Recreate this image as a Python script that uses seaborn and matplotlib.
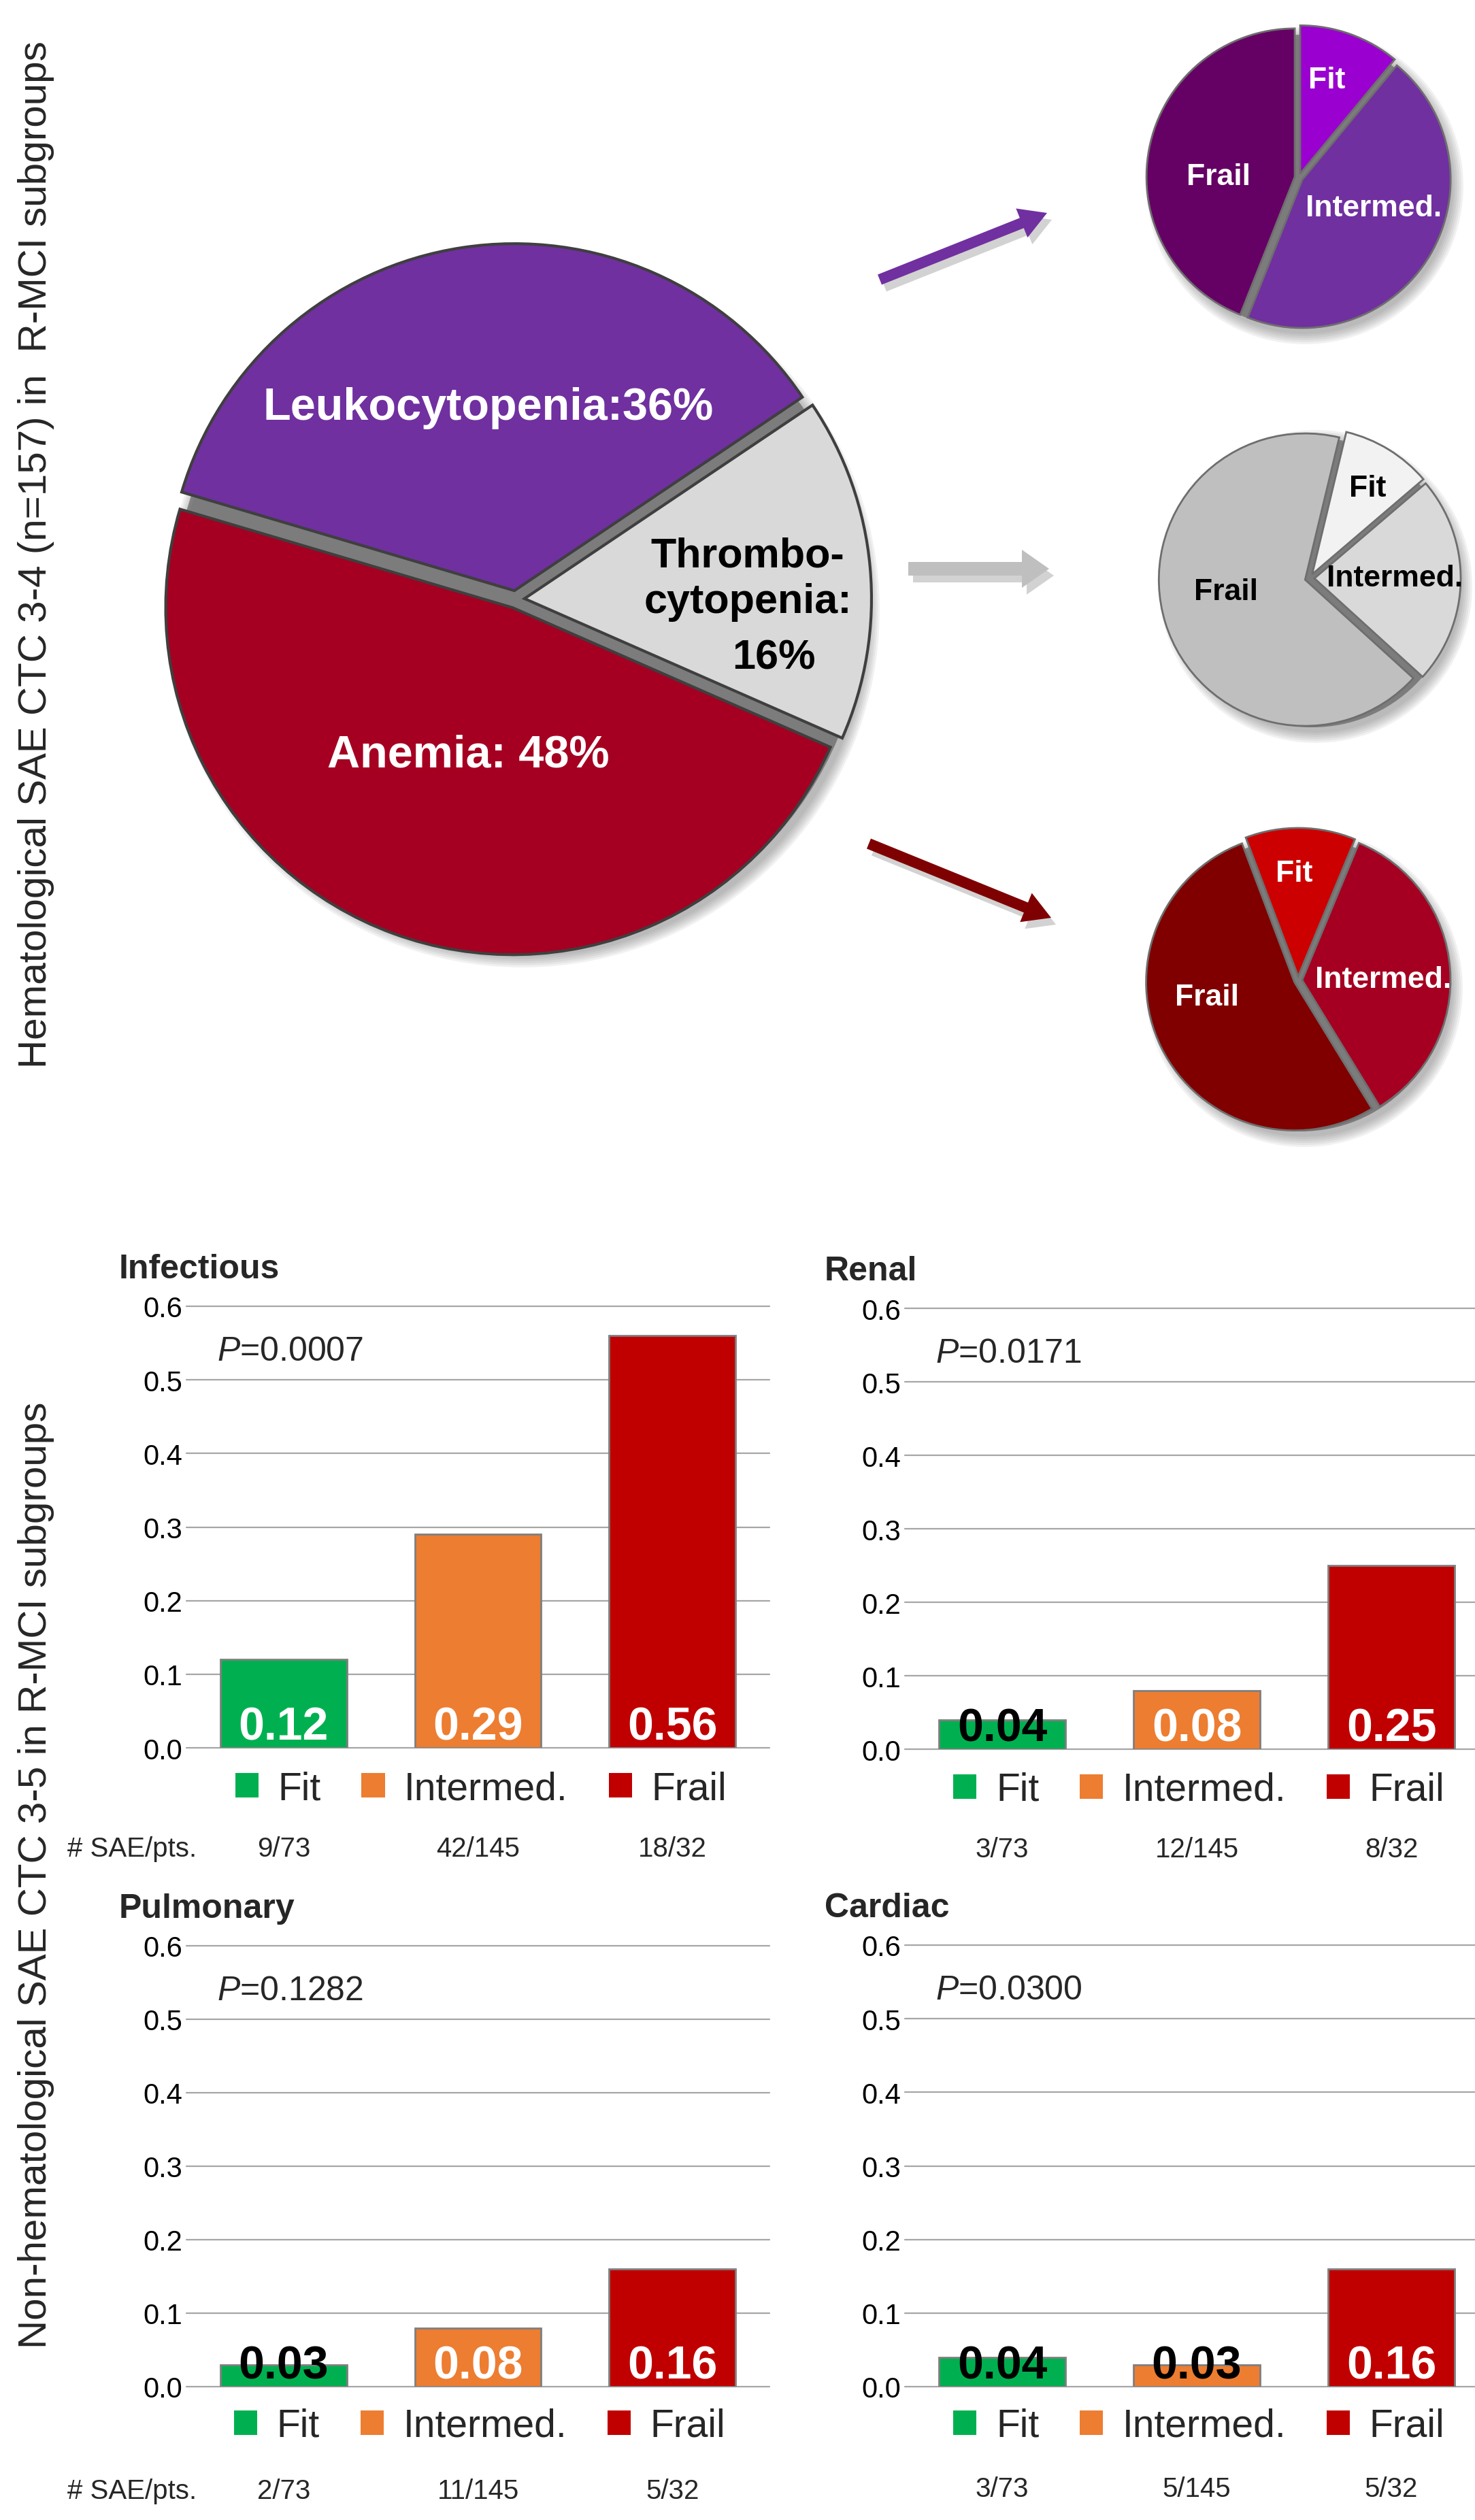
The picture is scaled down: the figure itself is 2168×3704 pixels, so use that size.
import numpy as np
import pandas as pd
import matplotlib
matplotlib.use('Agg')
import matplotlib.pyplot as plt
import matplotlib.patches as mpatches
import seaborn as sns

# ---- data ----
hema_names = ['Thrombo-\ncytopenia:\n16%', 'Leukocytopenia:36%', 'Anemia: 48%']
hema_share = [16, 36, 48]
hema_colors = ['#D9D9D9', '#7030A0', '#A50021']
hema_text = ['black', 'white', 'white']

sub_names = ['Fit', 'Intermed.', 'Frail']
leuko_share = [11, 45, 44]
thrombo_share = [10, 23, 67]
anemia_share = [12, 35, 53]
leuko_colors = ['#9A00CF', '#7030A0', '#650064']
thrombo_colors = ['#F2F2F2', '#D9D9D9', '#BFBFBF']
anemia_colors = ['#CC0000', '#A50021', '#800000']

groups = ['Fit', 'Intermed.', 'Frail']
bar_colors = ['#00B050', '#ED7D31', '#C00000']
panel_titles = ['Infectious', 'Renal', 'Pulmonary', 'Cardiac']
infectious = [0.12, 0.29, 0.56]
renal = [0.04, 0.08, 0.25]
pulmonary = [0.03, 0.08, 0.16]
cardiac = [0.04, 0.03, 0.16]
p_values = ['0.0007', '0.0171', '0.1282', '0.0300']
infectious_n = ['9/73', '42/145', '18/32']
renal_n = ['3/73', '12/145', '8/32']
pulmonary_n = ['2/73', '11/145', '5/32']
cardiac_n = ['3/73', '5/145', '5/32']

W, H = 2168, 3705

sns.set_theme(style='white')
plt.rcParams['font.family'] = ['Liberation Sans', 'DejaVu Sans']
plt.rcParams['mathtext.fontset'] = 'custom'
plt.rcParams['mathtext.rm'] = 'Liberation Sans'
plt.rcParams['mathtext.it'] = 'Liberation Sans:italic'

fig = plt.figure(figsize=(W / 100, H / 100), dpi=100)
fig.patch.set_facecolor('white')

# ---- top part: pies in pixel coordinates (y up) ----
ax0 = fig.add_axes([0, 0, 1, 1])
ax0.set_zorder(0)


def shadow(cx, cy, r, dx, dy):
    ax0.add_patch(mpatches.Circle((cx + dx * 0.5, cy + dy * 0.5), r - 2, color='#444444',
                                  alpha=0.55, lw=0, zorder=0.5))
    for k in range(6):
        ax0.add_patch(mpatches.Circle((cx + dx, cy + dy), r + 3 * k, color='#555555',
                                      alpha=0.08, lw=0, zorder=0.5))


def small_pie(share, colors, start, cx, cy, r, txt_pos, txt_color, expl):
    shadow(cx, cy, r, 9, -12)
    ax0.pie(share, colors=colors, startangle=start, counterclock=False,
            radius=r, center=(cx, cy), explode=expl,
            wedgeprops=dict(edgecolor='#6E6E6E', linewidth=2))
    # txt_pos in order Fit, Intermed., Frail
    for name, (tx, ty) in zip(sub_names, txt_pos):
        ax0.text(tx, H - ty, name, color=txt_color, fontsize=32, fontweight='bold',
                 ha='center', va='center')


# big pie
bx, by, br = 758, H - 882, 510
shadow(bx, by, br, 10, -16)
ax0.pie(hema_share, colors=hema_colors, startangle=-23.7, counterclock=True,
        radius=br, center=(bx, by), explode=[13, 13, 13],
        wedgeprops=dict(edgecolor='#3F3F3F', linewidth=3))
big_pos = [(1099, 852), (718, 600), (688, 1111)]
big_size = [44, 48, 48]
for name, (tx, ty), c, fs in zip(hema_names, big_pos, hema_text, big_size):
    head, _, tail = name.rpartition('\n')
    if head:
        ax0.text(tx, H - ty, head, color=c, fontsize=fs, fontweight='bold',
                 ha='center', va='center', multialignment='center', linespacing=1.25)
        ax0.text(tx + 38, H - ty - 116, tail, color=c, fontsize=fs, fontweight='bold',
                 ha='center', va='center')
    else:
        ax0.text(tx, H - ty, tail, color=c, fontsize=fs, fontweight='bold',
                 ha='center', va='center')

small_pie(leuko_share, leuko_colors, 90, 1909, H - 262, 218,
          [(1950, 119), (2019, 306), (1791, 260)], 'white', [6, 6, 6])
small_pie(thrombo_share, thrombo_colors, 76.5, 1925, H - 851, 215,
          [(2010, 718), (2050, 851), (1802, 870)], 'black', [7, 7, 7])
small_pie(anemia_share, anemia_colors, 110.7, 1908, H - 1442, 218,
          [(1902, 1285), (2033, 1440), (1774, 1466)], 'white', [6, 6, 6])

# arrows
arrows = [((1293, 412), (1539, 314), '#7030A0', 16, 46),
          ((1335, 837), (1542, 837), '#BFBFBF', 20, 56),
          ((1277, 1241), (1545, 1350), '#7F0000', 16, 46)]
for (x0, y0), (x1, y1), col, wd, hw in arrows:
    for sx, sy, c, a in [(7, -10, '#7F7F7F', 0.35), (0, 0, col, 1.0)]:
        ax0.add_patch(mpatches.FancyArrow(x0 + sx, H - y0 + sy, x1 - x0, -(y1 - y0),
                                          width=wd, head_width=hw, head_length=40,
                                          length_includes_head=True, color=c, alpha=a,
                                          lw=0))

ax0.set_xlim(0, W)
ax0.set_ylim(0, H)
ax0.set_aspect('auto')
ax0.axis('off')

fig.text(53 / W, 1 - 815 / H, 'Hematological SAE CTC 3-4 (n=157) in  R-MCI subgroups',
         rotation=90, ha='center', va='center', fontsize=42)
fig.text(53 / W, 1 - 2756 / H, 'Non-hematological SAE CTC 3-5 in R-MCI subgroups',
         rotation=90, ha='center', va='center', fontsize=42)

# ---- bottom part: bar panels ----
boxes = [(274, 1131, 1921, 2570), (1330, 2168, 1924, 2572),
         (274, 1131, 2861, 3509), (1330, 2168, 2860, 3509)]
xmax = [2.5, 2.43, 2.5, 2.43]
title_x = [-0.1155, -0.141, -0.1155, -0.141]
leg_x = [0.505, 0.516, 0.503, 0.516]
leg_y = [-0.0925, -0.0925, -0.089, -0.089]
cnt_y = [-0.228, -0.227, -0.236, -0.231]
rates = [infectious, renal, pulmonary, cardiac]
ns = [infectious_n, renal_n, pulmonary_n, cardiac_n]

for k in range(4):
    l, r, t, b = boxes[k]
    ax = fig.add_axes([l / W, 1 - b / H, (r - l) / W, (b - t) / H])
    ax.set_zorder(2)
    ax.patch.set_alpha(0)
    df = pd.DataFrame({'group': groups, 'rate': rates[k]})
    sns.barplot(data=df, x='group', y='rate', hue='group', order=groups,
                hue_order=groups, palette=dict(zip(groups, bar_colors)),
                saturation=1, width=0.65, edgecolor='#7F7F7F', linewidth=2,
                legend=False, ax=ax, zorder=3)
    ax.set_xlim(-0.5, xmax[k])
    ax.set_ylim(0, 0.6)
    ax.set_yticks(np.arange(0, 0.61, 0.1))
    ax.set_yticklabels([f'{v:.1f}' for v in np.arange(0, 0.61, 0.1)])
    ax.set_xticks([])
    ax.set_xlabel('')
    ax.set_ylabel('')
    for s in ax.spines.values():
        s.set_visible(False)
    ax.set_axisbelow(True)
    ax.yaxis.grid(True, color='#A6A6A6', linewidth=1.6, clip_on=False)
    ax.tick_params(axis='y', length=0, pad=4, labelsize=30, labelcolor='black')

    for i, v in enumerate(rates[k]):
        ax.annotate(f'{v:.2f}', (i, 0), xytext=(0, 9), textcoords='offset points',
                    ha='center', va='baseline', fontsize=49, fontweight='bold',
                    color='white' if v >= 0.05 else 'black', annotation_clip=False,
                    zorder=5)
    ax.text(-0.343, 0.539, r'$\mathit{P}$=' + p_values[k], fontsize=36,
            ha='left', va='center')
    ax.text(title_x[k], 1.085, panel_titles[k], transform=ax.transAxes,
            fontsize=36, fontweight='bold', ha='left', va='center')

    handles = [mpatches.Patch(facecolor=c, edgecolor='none', label=g)
               for g, c in zip(groups, bar_colors)]
    ax.legend(handles=handles, ncol=3, loc='center', bbox_to_anchor=(leg_x[k], leg_y[k]),
              frameon=False, fontsize=41, handlelength=0.6, handleheight=0.6,
              handletextpad=0.5, columnspacing=1.05, borderaxespad=0, borderpad=0)
    for i, n in enumerate(ns[k]):
        ax.text(i, cnt_y[k], n, transform=ax.get_xaxis_transform(),
                ha='center', va='center', fontsize=29)

fig.text(99 / W, 1 - 2718 / H, '# SAE/pts.', ha='left', va='center', fontsize=29)
fig.text(99 / W, 1 - 3662 / H, '# SAE/pts.', ha='left', va='center', fontsize=29)

fig.savefig('out.png', dpi=100, facecolor='white')
